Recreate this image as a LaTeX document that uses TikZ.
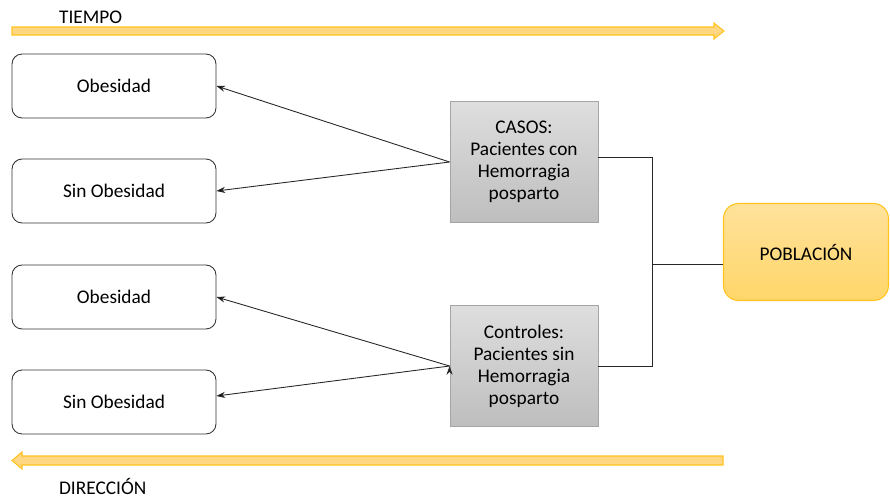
\documentclass[tikz,border=0pt]{standalone}
\usepackage{fontspec}
\setmainfont{Carlito}
\usepackage{tikz}
\usetikzlibrary{arrows.meta}
\usetikzlibrary{calc}

\definecolor{casogris}{RGB}{165,165,165}
\definecolor{casoalto}{RGB}{222,222,222}
\definecolor{casobajo}{RGB}{190,190,190}
\definecolor{oroborde}{RGB}{255,196,30}
\definecolor{oroalto}{RGB}{255,226,155}
\definecolor{orobajo}{RGB}{255,214,105}
\definecolor{flechaoro}{RGB}{255,214,130}

\begin{document}
\begin{tikzpicture}[x=0.02cm, y=-0.02cm,
	font=\fontsize{11}{12.5}\selectfont,
	grupo/.style={draw=black!80, rounded corners=0.2cm, minimum width=4.08cm, minimum height=1.28cm, line width=0.5pt},
	muestra/.style={draw=casogris, top color=casoalto, bottom color=casobajo, minimum width=2.96cm, minimum height=2.42cm, align=center, line width=0.5pt},
	poblacion/.style={draw=oroborde, top color=oroalto, bottom color=orobajo, rounded corners=0.3cm, minimum width=3.3cm, minimum height=1.94cm, line width=0.6pt},
	flecha/.style={draw=oroborde, fill=flechaoro, line width=0.6pt, line join=miter}]
\useasboundingbox (0,0) rectangle (890,498);

% grupos de exposicion
\node[grupo] (ob1) at (114,86) {Obesidad};
\node[grupo] (sob1) at (114,191) {Sin Obesidad};
\node[grupo] (ob2) at (114,297) {Obesidad};
\node[grupo] (sob2) at (114,402) {Sin Obesidad};

% casos y controles
\node[muestra] (casos) at (524,162) {CASOS:\\Pacientes con\\Hemorragia\\posparto};
\node[muestra] (controles) at (524,366) {Controles:\\Pacientes sin\\Hemorragia\\posparto};

\node[poblacion] (pob) at (806,252) {POBLACIÓN};

%\path[->,font=\scriptsize]
\path[-{Stealth[length=5pt,width=3.5pt]}, draw=black!85, line width=0.5pt]
(casos.west) edge (ob1.east)
(casos.west) edge (sob1.east)
(controles.west) edge (ob2.east)
(controles.west) edge ($(sob2.east)+(0,-6)$)
;

% llave hacia la poblacion
\coordinate (llave) at (652,264);
\draw[black!85, line width=0.5pt]
(casos.east |- 0,157) -| (llave |- 0,157) -- (llave |- controles.east) -- (controles.east);
\draw[black!85, line width=0.5pt] (llave) -- (llave -| pob.west);

% flechas de tiempo y direccion
\filldraw[flecha] (12,27) -- (714,27) -- (714,23) -- (724,31) -- (714,39) -- (714,35) -- (12,35) -- cycle;
\filldraw[flecha] (723,456) -- (22,456) -- (22,452) -- (12,460.5) -- (22,469) -- (22,465) -- (723,465) -- cycle;
\node[anchor=west] (tiempo) at (53,17) {TIEMPO};
\node[anchor=west, inner sep=1pt] (direccion) at (57,486) {DIRECCIÓN};
\end{tikzpicture}
\end{document}
